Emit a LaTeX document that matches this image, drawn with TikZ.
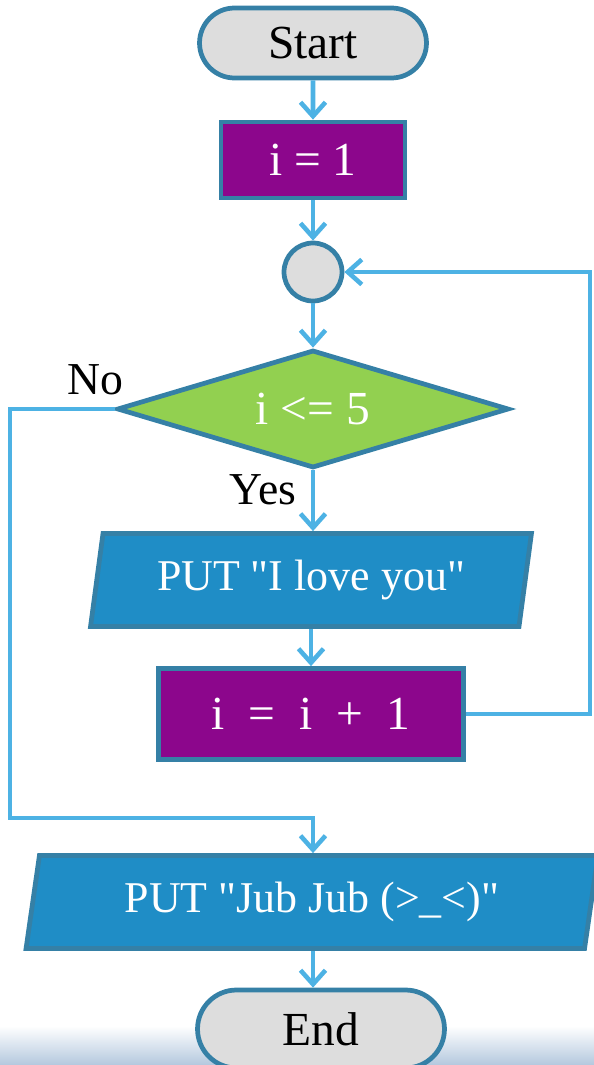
\documentclass[tikz,border=0pt]{standalone}
\usepackage{fontspec}
\setmainfont{Liberation Serif}
\definecolor{fcEdge}{HTML}{3580A6}
\definecolor{fcFlow}{HTML}{4DB2E4}
\definecolor{fcGray}{HTML}{DDDDDD}
\definecolor{fcPurple}{HTML}{8C068C}
\definecolor{fcGreen}{HTML}{92D050}
\definecolor{fcBlue}{HTML}{1F8DC6}
\definecolor{fcHaze}{HTML}{B4C8DE}
\usetikzlibrary{arrows.meta,shapes.geometric,shapes.misc}

\newcommand{\dq}{\textquotedbl}

\tikzset{
  box/.style={draw=fcEdge, line width=2.7pt, inner sep=0pt, text=white,
    font=\fontsize{27}{30}\selectfont},
  terminal/.style={box, rounded rectangle, fill=fcGray, text=black},
  process/.style={box, rectangle, fill=fcPurple},
  decision/.style={box, diamond, aspect=3.3, fill=fcGreen},
  io/.style={box, trapezium, trapezium left angle=77, trapezium right angle=103,
    trapezium stretches=true, fill=fcBlue, font=\fontsize{25}{29}\selectfont},
  joint/.style={box, circle, fill=fcGray},
  lbl/.style={font=\fontsize{26}{30}\selectfont},
  flow/.style={draw=fcFlow, line width=2.6pt,
    -{Straight Barb[length=2.8mm,width=5mm]}},
}

\begin{document}
\begin{tikzpicture}[x=0.02cm, y=-0.02cm]
  \useasboundingbox (0,0) rectangle (594,1065);
  % hazy strip along the bottom edge
  \shade[top color=white, bottom color=fcHaze] (0,1026) rectangle (594,1065);

  % blocks, top to bottom
  \node[terminal, minimum width=4.54cm, minimum height=1.40cm] (start) at (313,43) {Start};
  \node[process, minimum width=3.68cm, minimum height=1.52cm] (init) at (313,160) {i = 1};
  \node[joint, minimum size=1.16cm] (join) at (313,272) {};
  \node[decision, minimum width=7.84cm, minimum height=2.36cm] (test) at (313,409) {i <= 5};
  \node[io, minimum width=8.84cm, minimum height=1.86cm] (love) at (311,580)
    {PUT \dq I love you\dq};
  \node[process, minimum width=6.1cm, minimum height=1.82cm] (incr) at (311,714)
    {i\ \ =\ \ i\ \ +\ \ 1};
  \node[io, minimum width=11.44cm, minimum height=1.86cm] (jub) at (312,902)
    {PUT \dq Jub Jub (>\_<)\dq};
  \node[terminal, minimum width=4.94cm, minimum height=1.56cm] (stop) at (321,1029) {End};

  % branch labels
  \node[lbl] (no) at (95,380) {No};
  \node[lbl] (yes) at (263,490) {Yes};

  % turning points of the two long lines
  \coordinate (rt) at (590,272);
  \coordinate (lf) at (10,818);

  % connectors
  \draw[flow] (start) -- (init);
  \draw[flow] (init) -- (join);
  \draw[flow] (join) -- (test);
  \draw[flow] (test) -- (test |- love.north);
  \draw[flow] (love.south -| incr) -- (incr);
  \draw[flow] (incr.east) -| (rt) -- (join.east);
  \draw[flow] (test.west) -| (lf) -| (jub.north -| test);
  \draw[flow] (jub.south -| test) -- (test |- stop.north);
\end{tikzpicture}
\end{document}
